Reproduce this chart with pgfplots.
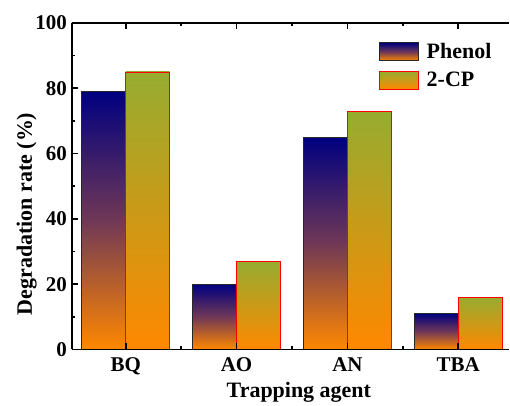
\documentclass[border=0pt]{standalone}
\usepackage{fontspec}
\setmainfont{Liberation Serif}
\usepackage{pgfplots}
\pgfplotsset{compat=1.18}

\definecolor{navyb}{RGB}{0,0,128}
\definecolor{purpb}{RGB}{112,56,86}
\definecolor{orangeb}{RGB}{255,136,0}
\definecolor{oliveb}{RGB}{150,172,48}

\pgfplotsset{
  phen/.style={ybar, bar width=44pt, bar shift=-22pt, draw=black!85, line width=0.8pt,
    top color=navyb, bottom color=orangeb, middle color=purpb, forget plot},
  cp/.style={ybar, bar width=44pt, bar shift=22pt, draw=red, line width=0.8pt,
    top color=oliveb, bottom color=orangeb, forget plot},
}

\begin{document}
\begin{tikzpicture}
\begin{axis}[
    scale only axis,
    width=438pt, height=327pt,
    xmin=-0.486, xmax=3.46,
    ymin=0, ymax=100,
    axis x line*=box,
    axis y line*=left,
    axis line style={-, line width=1.6pt},
    axis on top,
    xtick={0,1,2,3},
    xticklabels={BQ,AO,AN,TBA},
    minor xtick={0.5,1.5,2.5},
    ytick={0,20,40,60,80,100},
    yticklabels={0,20,40,60,80,100},
    minor ytick={10,30,...,90},
    tick align=inside,
    major tick length=6pt,
    minor tick length=3pt,
    every tick/.style={black, line width=1.6pt},
    ticklabel style={font=\fontsize{21}{24}\selectfont\bfseries},
    xticklabel style={yshift=-5pt},
    yticklabel style={xshift=-1.5pt},
    xlabel={Trapping agent},
    ylabel={Degradation rate (\%)},
    every axis x label/.style={at={(axis description cs:0.519,-0.101)}, anchor=north, inner sep=0pt,
      font=\fontsize{22}{25}\selectfont\bfseries},
    every axis y label/.style={at={(axis description cs:-0.08,0.415)}, rotate=90, anchor=south, inner sep=0pt,
      font=\fontsize{22}{25}\selectfont\bfseries},
    legend style={draw=none, fill=none, at={(0.695,0.95)}, anchor=north west,
      font=\fontsize{22}{25}\selectfont\bfseries, row sep=8pt,
      /tikz/every odd column/.append style={column sep=6pt}},
    legend cell align=left,
    legend image code/.code={\draw[#1] (0pt,-9pt) rectangle (39pt,9pt);},
]
% Phenol
\addplot[phen] coordinates {(0,79)};
\addplot[phen] coordinates {(1,20)};
\addplot[phen] coordinates {(2,65)};
\addplot[phen] coordinates {(3,11)};
% 2-CP
\addplot[cp] coordinates {(0,85)};
\addplot[cp] coordinates {(1,27)};
\addplot[cp] coordinates {(2,73)};
\addplot[cp] coordinates {(3,16)};

\addlegendimage{draw=black!85, line width=0.8pt, top color=navyb, bottom color=orangeb, middle color=purpb}
\addlegendentry{Phenol}
\addlegendimage{draw=red, line width=0.8pt, top color=oliveb, bottom color=orangeb}
\addlegendentry{2-CP}
\end{axis}
\path (-72pt,-56pt) rectangle (438pt,350pt);
\end{tikzpicture}
\end{document}
